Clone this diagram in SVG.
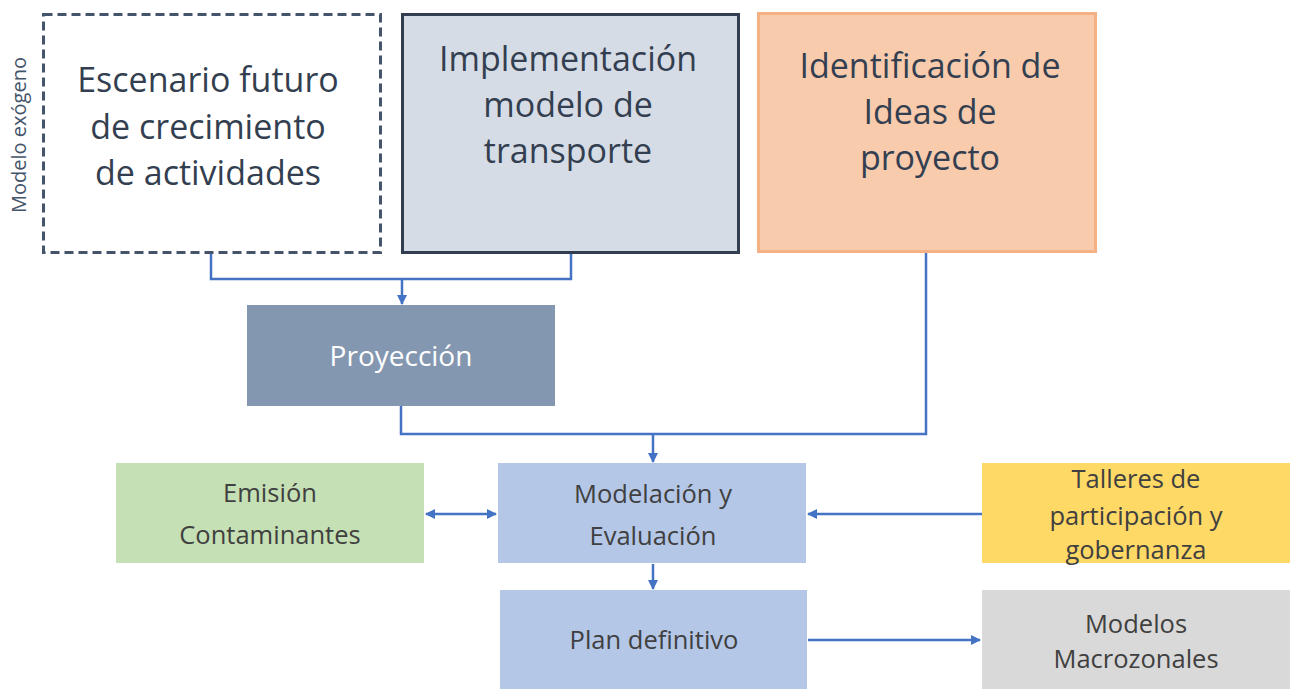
<svg xmlns="http://www.w3.org/2000/svg" width="1290" height="689" viewBox="0 0 1290 689">
<defs>
<style>
.big{font-family:"Open Sans","Liberation Sans",sans-serif;font-size:34px;fill:#333f50;text-anchor:middle}
.sm{font-family:"Open Sans","Liberation Sans",sans-serif;font-size:25.5px;fill:#404040;text-anchor:middle}
.con{fill:none;stroke:#4472c4;stroke-width:2.5}
</style>
<marker id="ah" viewBox="0 0 10 10" refX="9" refY="5" markerWidth="4" markerHeight="4" orient="auto-start-reverse"><path d="M0,0L10,5L0,10z" fill="#4472c4"/></marker>
</defs>
<rect width="1290" height="689" fill="#fff"/>
<text x="26" y="135" transform="rotate(-90 26 135)" font-family="Open Sans, Liberation Sans, sans-serif" font-size="20" fill="#44546a" text-anchor="middle">Modelo exógeno</text>
<g id="escenario">
<rect x="43.5" y="14.5" width="337" height="238" fill="#fff" stroke="#44546a" stroke-width="3" stroke-dasharray="9,5"/>
<text class="big" x="208" y="92">Escenario futuro</text>
<text class="big" x="208" y="139">de crecimiento</text>
<text class="big" x="208" y="185">de actividades</text>
</g>
<g id="implementacion">
<rect x="402.5" y="14.5" width="336" height="238" fill="#d6dce5" stroke="#333f50" stroke-width="3"/>
<text class="big" x="568" y="71">Implementación</text>
<text class="big" x="568" y="117">modelo de</text>
<text class="big" x="568" y="163">transporte</text>
</g>
<g id="identificacion">
<rect x="758.5" y="13.5" width="337" height="238" fill="#f8cbad" stroke="#f4b183" stroke-width="3"/>
<text class="big" x="930" y="78">Identificación de</text>
<text class="big" x="930" y="124">Ideas de</text>
<text class="big" x="930" y="170">proyecto</text>
</g>
<g id="proyeccion">
<rect x="247" y="305" width="308" height="101" fill="#8497b0"/>
<text class="sm" x="401" y="366" style="fill:#fff;font-size:28px">Proyección</text>
</g>
<g id="modelacion">
<rect x="498" y="463" width="308" height="100" fill="#b4c7e7"/>
<text class="sm" x="653" y="503">Modelación y</text>
<text class="sm" x="653" y="545">Evaluación</text>
</g>
<g id="emision">
<rect x="116" y="463" width="308" height="100" fill="#c5e0b4"/>
<text class="sm" x="270" y="502">Emisión</text>
<text class="sm" x="270" y="544">Contaminantes</text>
</g>
<g id="talleres">
<rect x="982" y="463" width="308" height="100" fill="#ffd966"/>
<text class="sm" x="1136" y="488">Talleres de</text>
<text class="sm" x="1136" y="525">participación y</text>
<text class="sm" x="1136" y="559">gobernanza</text>
</g>
<g id="plan">
<rect x="500" y="590" width="307" height="99" fill="#b4c7e7"/>
<text class="sm" x="654" y="649">Plan definitivo</text>
</g>
<g id="modelos">
<rect x="982" y="590" width="308" height="99" fill="#d9d9d9"/>
<text class="sm" x="1136" y="633">Modelos</text>
<text class="sm" x="1136" y="668">Macrozonales</text>
</g>
<g id="connectors">
<path class="con" d="M211,254V279H571V254"/>
<path class="con" d="M402,279V304" marker-end="url(#ah)"/>
<path class="con" d="M401,406V434H926V253"/>
<path class="con" d="M653,434V462" marker-end="url(#ah)"/>
<path class="con" d="M426,514H496" marker-start="url(#ah)" marker-end="url(#ah)"/>
<path class="con" d="M982,514H808" marker-end="url(#ah)"/>
<path class="con" d="M653,564V589" marker-end="url(#ah)"/>
<path class="con" d="M808,640H980" marker-end="url(#ah)"/>
</g>
</svg>
